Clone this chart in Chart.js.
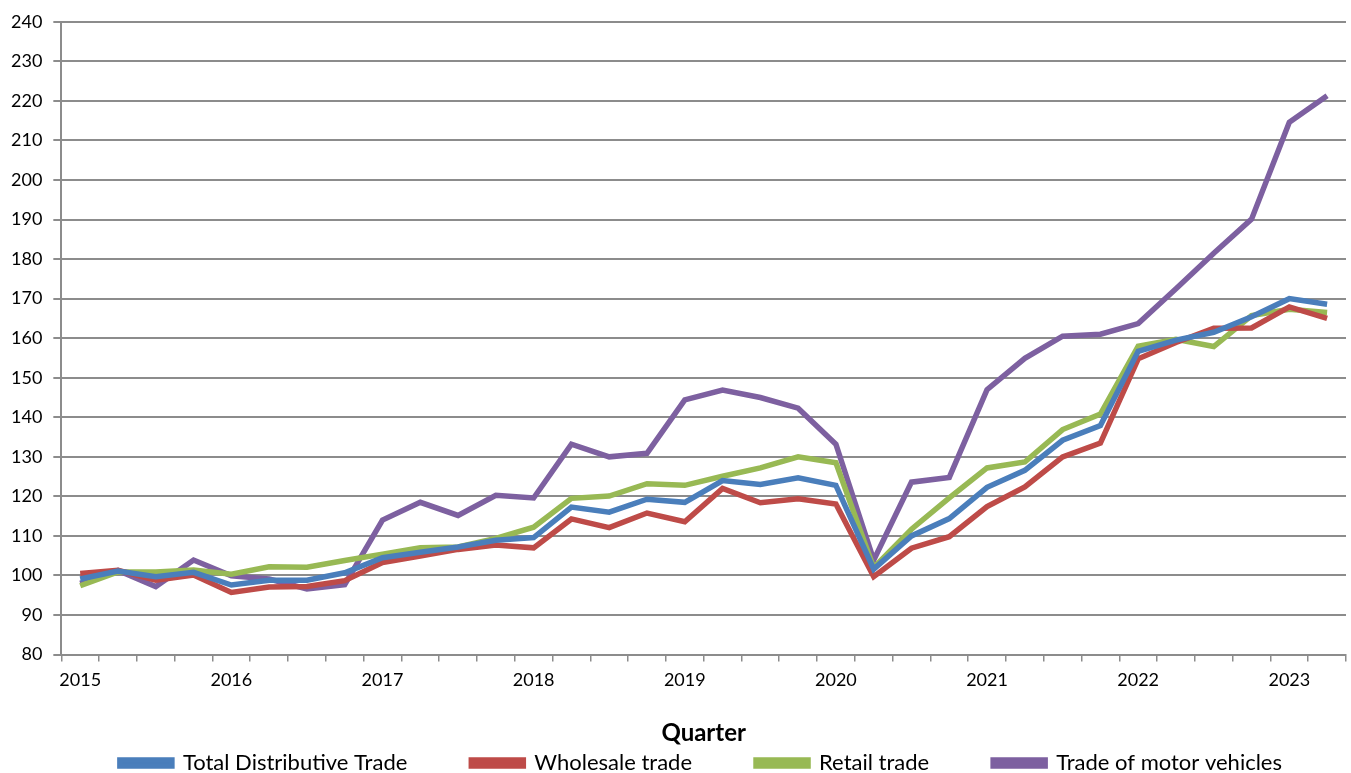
<!DOCTYPE html>
<html>
<head>
<meta charset="utf-8">
<script src="https://cdn.jsdelivr.net/npm/chart.js@4.4.1/dist/chart.umd.min.js"></script>
<style>
  html, body { margin: 0; padding: 0; background: #ffffff; }
  #wrap { width: 1351px; height: 773px; }
</style>
</head>
<body>
<div id="wrap"><canvas id="chart" width="1351" height="773"></canvas></div>
<script>
const quarters = [
  "2015Q1", "2015Q2", "2015Q3", "2015Q4",
  "2016Q1", "2016Q2", "2016Q3", "2016Q4",
  "2017Q1", "2017Q2", "2017Q3", "2017Q4",
  "2018Q1", "2018Q2", "2018Q3", "2018Q4",
  "2019Q1", "2019Q2", "2019Q3", "2019Q4",
  "2020Q1", "2020Q2", "2020Q3", "2020Q4",
  "2021Q1", "2021Q2", "2021Q3", "2021Q4",
  "2022Q1", "2022Q2", "2022Q3", "2022Q4",
  "2023Q1", "2023Q2",
];

const totalDistributive = [
  99.1, 101.1, 99.7, 100.8, 97.6, 98.8, 98.8, 100.7,
  104.5, 105.9, 107.2, 108.9, 109.6, 117.3, 116.0, 119.3,
  118.5, 124.0, 123.0, 124.7, 122.8, 101.6, 110.0, 114.4,
  122.3, 126.6, 134.2, 137.9, 156.7, 159.5, 161.5, 165.4,
  170.0, 168.6,
];

const wholesale = [
  100.5, 101.3, 98.8, 100.1, 95.7, 97.1, 97.2, 98.7,
  103.3, 104.9, 106.6, 107.7, 107.0, 114.3, 112.1, 115.8,
  113.6, 122.0, 118.4, 119.4, 118.1, 99.7, 106.9, 109.8,
  117.4, 122.4, 130.0, 133.5, 154.8, 158.9, 162.5, 162.6,
  167.9, 165.0,
];

const retail = [
  97.4, 100.9, 100.9, 101.4, 100.3, 102.2, 102.1, 103.8,
  105.4, 107.0, 107.2, 109.4, 112.2, 119.5, 120.1, 123.2,
  122.8, 125.1, 127.2, 130.0, 128.5, 102.0, 111.7, 119.6,
  127.2, 128.7, 136.9, 140.8, 158.0, 159.7, 157.9, 165.7,
  167.3, 166.5,
];

const motorVehicles = [
  98.0, 101.3, 97.2, 103.9, 99.9, 99.1, 96.6, 97.7,
  114.0, 118.5, 115.2, 120.3, 119.6, 133.2, 130.0, 130.9,
  144.4, 146.9, 145.0, 142.3, 133.2, 103.9, 123.6, 124.8,
  147.0, 154.9, 160.5, 161.0, 163.7, 172.5, 181.5, 190.1,
  214.6, 221.3,
];

const seriesNames = [
  "Total Distributive Trade",
  "Wholesale trade",
  "Retail trade",
  "Trade of motor vehicles",
];

const yTickMin = 80;
const yTickMax = 240;
const yTickStep = 10;

const colours = ["#4a7ebb", "#be4b48", "#98b954", "#7d60a0"];
const gridGrey = "#8c8c8c";
const fontFamily = "Lato, 'Open Sans', sans-serif";

function lineDataset(label, data, colour) {
  return {
    label,
    data,
    borderColor: colour,
    backgroundColor: colour,
    borderWidth: 5.5,
    pointRadius: 0,
    pointHoverRadius: 0,
    tension: 0,
    fill: false,
  };
}

new Chart(document.getElementById("chart"), {
  type: "line",
  data: {
    labels: quarters,
    datasets: [
      lineDataset(seriesNames[0], totalDistributive, colours[0]),
      lineDataset(seriesNames[1], wholesale, colours[1]),
      lineDataset(seriesNames[2], retail, colours[2]),
      lineDataset(seriesNames[3], motorVehicles, colours[3]),
    ],
  },
  options: {
    responsive: false,
    animation: false,
    layout: {
      // negative bottom lets the legend's tall label padding hang off the edge
      padding: { top: 5, right: 5, left: 0, bottom: -11 },
    },
    plugins: {
      tooltip: { enabled: false },
      legend: {
        position: "bottom",
        align: "end",
        labels: {
          color: "#000",
          boxWidth: 52,
          boxHeight: 6,
          padding: 64,
          font: { family: fontFamily, size: 22 },
        },
      },
    },
    scales: {
      x: {
        type: "category",
        offset: true,
        grid: {
          offset: true,
          drawOnChartArea: false,
          drawTicks: true,
          tickLength: 7,
          color: gridGrey,
          lineWidth: 1.5,
        },
        border: { color: gridGrey, width: 2 },
        ticks: {
          autoSkip: false,
          maxRotation: 0,
          color: "#000",
          padding: 8,
          font: { family: fontFamily, size: 18 },
          callback(value, index) {
            const label = quarters[index];
            return label.endsWith("Q1") ? label.slice(0, 4) : "";
          },
        },
        title: {
          display: true,
          text: "Quarter",
          color: "#000",
          font: { family: fontFamily, size: 24, weight: "bold" },
          // pulled down over the legend's top padding
          padding: { top: 20, bottom: -60 },
        },
      },
      y: {
        min: yTickMin,
        max: yTickMax,
        grid: {
          color: gridGrey,
          lineWidth: 2,
          tickLength: 8,
        },
        border: { color: gridGrey, width: 2 },
        ticks: {
          stepSize: yTickStep,
          color: "#000",
          padding: 11,
          font: { family: fontFamily, size: 18 },
        },
      },
    },
  },
});
</script>
</body>
</html>
